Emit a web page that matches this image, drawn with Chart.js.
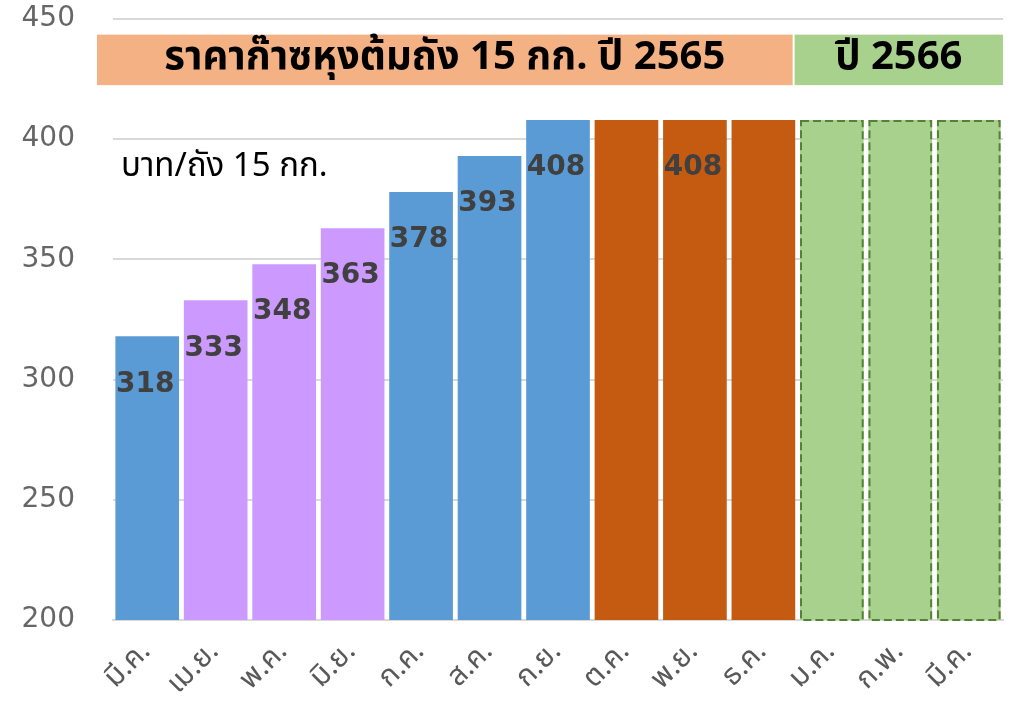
<!DOCTYPE html>
<html>
<head>
<meta charset="utf-8">
<script src="https://cdn.jsdelivr.net/npm/chart.js@4"></script>
<style>
    body { margin: 0; background: #fff; }
    #wrap { width: 1012px; height: 707px; position: relative; }
</style>
</head>
<body>
<div id="wrap"><canvas id="lpgChart"></canvas></div>
<script>
// months (Thai abbreviations), Mar 2565 .. Mar 2566
var months = ["มี.ค.", "เม.ย.", "พ.ค.", "มิ.ย.", "ก.ค.", "ส.ค.", "ก.ย.", "ต.ค.", "พ.ย.", "ธ.ค.", "ม.ค.", "ก.พ.", "มี.ค."];
var prices = [318, 333, 348, 363, 378, 393, 408, 408, 408, 408, 408, 408, 408];
var barColors = ["#5B9BD5", "#CC99FF", "#CC99FF", "#CC99FF", "#5B9BD5", "#5B9BD5", "#5B9BD5",
                 "#C55A11", "#C55A11", "#C55A11", "#A9D18E", "#A9D18E", "#A9D18E"];
var showValue = [true, true, true, true, true, true, true, false, true, false, false, false, false];
var forecast = [false, false, false, false, false, false, false, false, false, false, true, true, true];
var yTicks = [200, 250, 300, 350, 400, 450];
var header2565 = "ราคาก๊าซหุงต้มถัง 15 กก. ปี 2565";
var header2566 = "ปี 2566";
var unitText = "บาท/ถัง 15 กก.";

var thaiFont = "Tahoma, 'Noto Sans Thai', 'Noto Sans', sans-serif";

var extrasPlugin = {
    id: "extras",
    afterDatasetsDraw: function(chart) {
        var c = chart.ctx,
            meta = chart.getDatasetMeta(0),
            xs = chart.scales.x,
            ys = chart.scales.y,
            area = chart.chartArea;
        c.save();

        // dashed outline for 2566 bars
        c.setLineDash([8, 4]);
        c.lineWidth = 2;
        c.strokeStyle = "#548235";
        meta.data.forEach(function(bar, i) {
            if (!forecast[i]) return;
            var p = bar.getProps(["x", "y", "width", "base"], true);
            var bottom = Math.min(p.base, area.bottom);
            c.strokeRect(p.x - p.width / 2 + 1, p.y + 1, p.width - 2, bottom - p.y - 1);
        });
        c.setLineDash([]);

        // value labels
        c.font = "bold 28px 'DejaVu Sans', Verdana, sans-serif";
        c.fillStyle = "#404040";
        c.textAlign = "center";
        c.textBaseline = "middle";
        meta.data.forEach(function(bar, i) {
            if (!showValue[i]) return;
            c.fillText(prices[i], bar.x - 2, bar.y + 48);
        });

        // header boxes
        var split = (xs.getPixelForValue(9) + xs.getPixelForValue(10)) / 2;
        var top = ys.getPixelForValue(443.5),
            bottom = ys.getPixelForValue(422.5);
        c.fillStyle = "#F4B183";
        c.fillRect(area.left - 16, top, split - 5 - (area.left - 16), bottom - top);
        c.fillStyle = "#A9D18E";
        c.fillRect(split - 3, top, area.right - split + 3, bottom - top);

        c.fillStyle = "#000";
        c.font = "bold 40px " + thaiFont;
        c.fillText(header2565, (area.left - 16 + split - 5) / 2, (top + bottom) / 2 + 1);
        c.fillText(header2566, (split - 3 + area.right) / 2, (top + bottom) / 2 + 1);

        // unit
        c.font = "33px " + thaiFont;
        c.textAlign = "left";
        c.fillText(unitText, area.left + 8, ys.getPixelForValue(387.5));
        c.restore();
    }
};

var ctx = document.getElementById("lpgChart").getContext("2d");
var myChart = new Chart(ctx, {
    type: "bar",
    data: {
        labels: months,
        datasets: [{
            data: prices,
            backgroundColor: barColors,
            borderWidth: 0,
            barPercentage: 0.93,
            categoryPercentage: 1.0
        }]
    },
    options: {
        responsive: true,
        maintainAspectRatio: false,
        animation: false,
        layout: { padding: { top: 19, right: 9, left: 0, bottom: 0 } },
        plugins: {
            legend: { display: false },
            tooltip: { enabled: false }
        },
        scales: {
            x: {
                grid: { display: false, drawTicks: false },
                border: { color: "#D9D9D9", width: 2 },
                ticks: {
                    maxRotation: 45,
                    minRotation: 45,
                    padding: 16,
                    color: "#595959",
                    font: { family: thaiFont, size: 29 }
                },
                afterFit: function(scale) {
                    scale.height = 87;
                    scale.paddingLeft = 0;
                    scale.paddingRight = 0;
                    scale.paddingTop = 0;
                    scale.paddingBottom = 0;
                }
            },
            y: {
                min: 200,
                max: 450,
                afterBuildTicks: function(scale) {
                    scale.ticks = yTicks.map(function(v) { return { value: v }; });
                },
                grid: { color: "#D9D9D9", lineWidth: 2, drawTicks: false },
                border: { display: false },
                ticks: {
                    padding: 38,
                    color: "#666666",
                    font: { family: "'DejaVu Sans', Verdana, sans-serif", size: 28 }
                },
                afterFit: function(scale) {
                    scale.width = 113;
                    scale.paddingTop = 0;
                    scale.paddingBottom = 0;
                }
            }
        }
    },
    plugins: [extrasPlugin]
});
</script>
</body>
</html>
